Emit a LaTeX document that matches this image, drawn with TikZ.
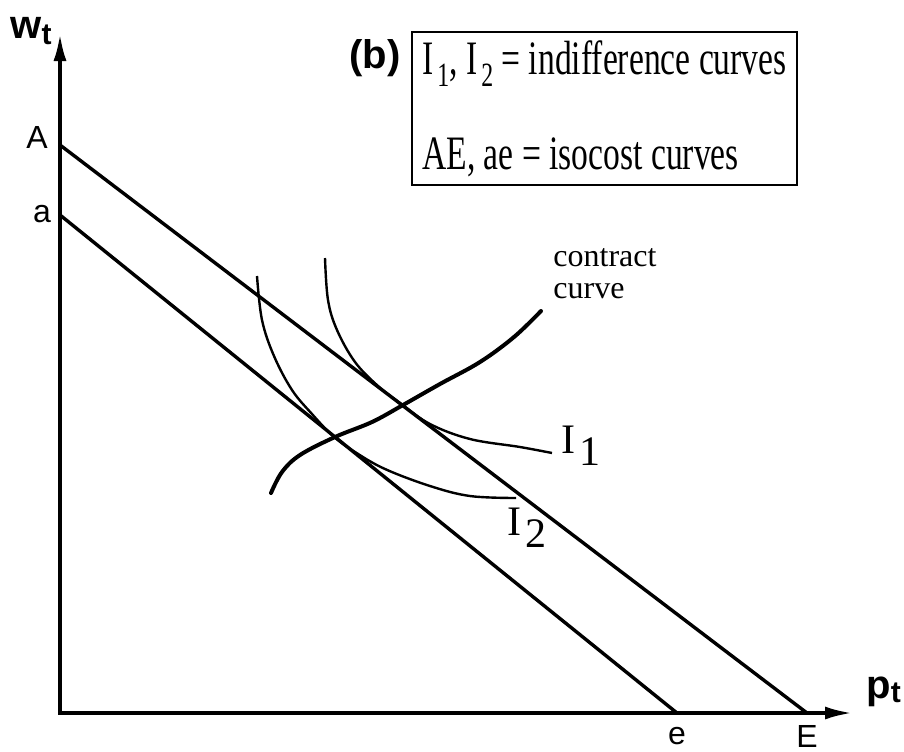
\documentclass[tikz,border=0pt]{standalone}
\usepackage{fontspec}
\setmainfont{Liberation Serif}
\setsansfont{Liberation Sans}
\newfontfamily\narrowserif[FakeStretch=0.7]{Liberation Serif}
\usetikzlibrary{arrows.meta, positioning}

\newcommand{\lowsub}[2]{#1\hspace{2pt}\raisebox{-6pt}{#2}}

\begin{document}
\begin{tikzpicture}[
  x=0.5pt, y=-0.5pt,
  axis/.style={line width=2pt, line join=miter,
    {Latex[length=14pt, width=6.5pt]}-{Latex[length=14pt, width=6.5pt]}},
  isocost/.style={line width=1.7pt},
  indiff/.style={line width=1.2pt},
  contract/.style={line width=2pt, line cap=round},
  ptlabel/.style={font=\sffamily\fontsize{16}{18}\selectfont, inner sep=0pt},
  axlabel/.style={font=\sffamily\bfseries\fontsize{20}{22}\selectfont, inner sep=0pt},
  curvelab/.style={font=\fontsize{21}{24}\selectfont, inner sep=0pt},
  legend/.style={
    draw, line width=1pt,
    minimum width=192.5pt, minimum height=76.5pt,
    align=left, inner sep=0pt,
    font=\narrowserif\fontsize{24}{47.5}\selectfont
  }
]
\useasboundingbox (0,0) rectangle (904,751);

\coordinate (O) at (60,713);
\coordinate (ytip) at (60,33);
\coordinate (xtip) at (853,713);
\coordinate (A) at (60,145);
\coordinate (a) at (60,215);
\coordinate (E) at (807,713);
\coordinate (e) at (677,713);

\draw[axis] (ytip) -- (O) -- (xtip);

\node[axlabel] (wlab) at (31,31) {w\raisebox{-3pt}{\fontsize{15}{15}\selectfont t}};
\node[axlabel, anchor=west] (plab) at (866,692) {p\raisebox{-2pt}{\fontsize{15}{15}\selectfont t}};

\node[ptlabel] (Alab) at (37,137) {A};
\node[ptlabel] (alab) at (42,214) {a};
\node[ptlabel] (elab) at (677,736) {e};
\node[ptlabel] (Elab) at (807,736) {E};

% isocost lines
\draw[isocost] (A) -- (E);
\draw[isocost] (a) -- (e);

% indifference curves
\draw[indiff] plot[smooth, tension=0.6] coordinates {
  (325,258) (328,300) (337,330) (355,362) (378,386) (400,403)
  (430,424) (470,439) (520,447) (552,453)};
\draw[indiff] plot[smooth, tension=0.6] coordinates {
  (257,276) (262,320) (274,356) (292,390) (312,414) (333,436)
  (355,452) (385,469) (430,486) (470,496) (516,498)};

% contract curve
\draw[contract] plot[smooth, tension=0.6] coordinates {
  (271,493) (282,472) (300,455) (335,437) (372,422) (403,405)
  (440,384) (480,362) (514,337) (541,311)};

\node[curvelab, anchor=base west] (I1lab) at (561,453) {\lowsub{I}{1}};
\node[curvelab, anchor=base west] (I2lab) at (507,535) {\lowsub{I}{2}};

\node[font=\fontsize{16}{16}\selectfont, align=left, anchor=base west,
  inner sep=0pt] (cclab) at (553,298) {contract\\curve};

\node[font=\sffamily\bfseries\fontsize{20}{22}\selectfont, inner sep=0pt]
  (part) at (375,58) {(b)};
\node[legend] (key) at (604.5,108.5)
  {\lowsub{I}{\fontsize{17}{17}\selectfont 1}, \lowsub{I}{\fontsize{17}{17}\selectfont 2} = indifference curves\\
   AE, ae = isocost curves};

\end{tikzpicture}
\end{document}
